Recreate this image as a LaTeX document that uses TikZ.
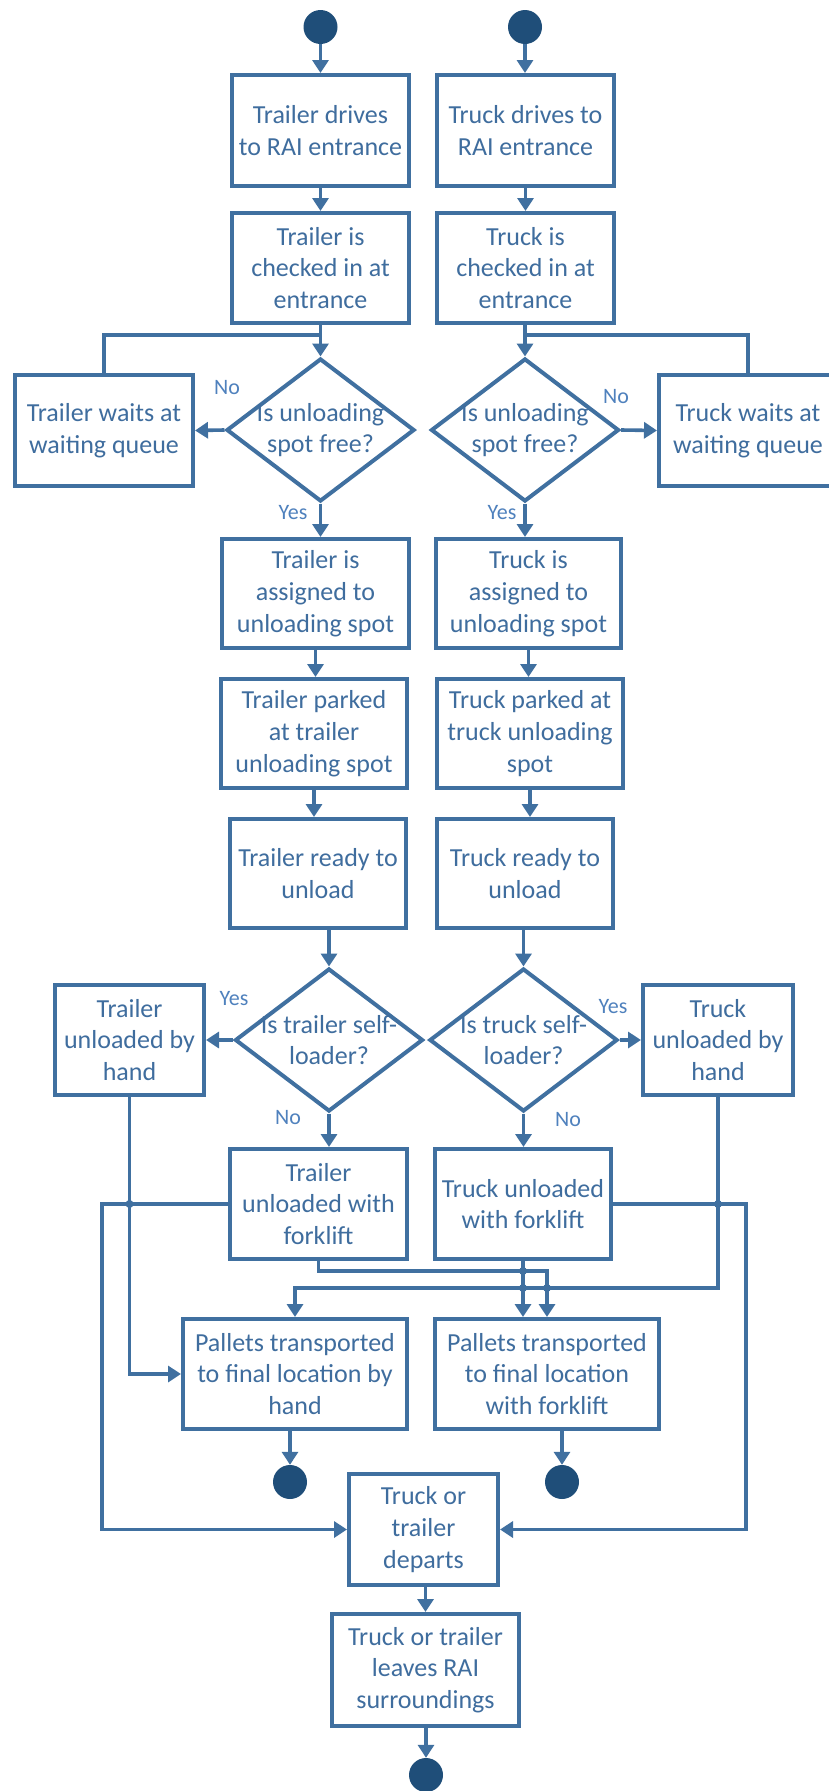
\documentclass[tikz,border=0pt]{standalone}
\usepackage{fontspec}
\setmainfont{Carlito}
\usetikzlibrary{arrows.meta,shapes.geometric}
\definecolor{lineblue}{RGB}{64,112,160}
\definecolor{textblue}{RGB}{63,109,158}
\definecolor{navy}{RGB}{31,78,121}
\definecolor{lblblue}{RGB}{79,129,189}
\begin{document}
\begin{tikzpicture}[x=1pt,y=-1pt,
  box/.style={draw=lineblue, line width=4pt, align=center, text=textblue, inner sep=0pt, font=\fontsize{26}{31.7}\selectfont},
  dia/.style={draw=lineblue, line width=4pt, diamond, inner sep=0pt, minimum width=188pt, minimum height=143pt},
  dtext/.style={align=center, text=textblue, inner sep=0pt, font=\fontsize{26}{31.7}\selectfont},
  startend/.style={circle, fill=navy, minimum size=34pt, inner sep=0pt},
  jn/.style={circle, fill=lineblue, minimum size=8pt, inner sep=0pt},
  lbl/.style={text=lblblue, inner sep=0pt, font=\fontsize{22}{26}\selectfont},
  conn/.style={draw=lineblue, line width=3.6pt},
  arr/.style={conn, -{Triangle[length=13pt,width=16pt]}},
]
\useasboundingbox (0,0) rectangle (829,1791);
\fill[white] (0,0) rectangle (829,1791);
\clip (0,0) rectangle (829,1791);

% start nodes
\node[startend] (s1) at (320.5,27) {};
\node[startend] (s2) at (525,27) {};

% boxes
\node[box, minimum width=177pt, minimum height=111pt] (a1) at (320.5,130.5) {Trailer drives\\to RAI entrance};
\node[box, minimum width=177pt, minimum height=111pt] (a2) at (525.5,130.5) {Truck drives to\\RAI entrance};
\node[box, minimum width=177pt, minimum height=110pt] (b1) at (320.5,268) {Trailer is\\checked in at\\entrance};
\node[box, minimum width=177pt, minimum height=110pt] (b2) at (525.5,268) {Truck is\\checked in at\\entrance};

\node[dia] (d1) at (320.5,430) {};
\node[dtext] (d1t) at (320.5,430) {Is unloading\\spot free?};
\node[dia] (d2) at (525,430) {};
\node[dtext] (d2t) at (525,430) {Is unloading\\spot free?};

\node[box, minimum width=178pt, minimum height=111pt] (w1) at (104,430.5) {Trailer waits at\\waiting queue};
\node[box, minimum width=178pt, minimum height=111pt] (w2) at (748,430.5) {Truck waits at\\waiting queue};

\node[box, minimum width=187pt, minimum height=109pt] (c1) at (315.5,593.5) {Trailer is\\assigned to\\unloading spot};
\node[box, minimum width=185pt, minimum height=109pt] (c2) at (528.5,593.5) {Truck is\\assigned to\\unloading spot};
\node[box, minimum width=186pt, minimum height=109pt] (e1) at (314,733.5) {Trailer parked\\at trailer\\unloading spot};
\node[box, minimum width=186pt, minimum height=109pt] (e2) at (530,733.5) {Truck parked at\\truck unloading\\spot};
\node[box, minimum width=176pt, minimum height=109pt] (f1) at (318,873.5) {Trailer ready to\\unload};
\node[box, minimum width=176pt, minimum height=109pt] (f2) at (525,873.5) {Truck ready to\\unload};

\node[dia] (g1) at (329,1040) {};
\node[dtext] (g1t) at (329,1040) {Is trailer self-\\loader?};
\node[dia] (g2) at (523.5,1040) {};
\node[dtext] (g2t) at (523.5,1040) {Is truck self-\\loader?};

\node[box, minimum width=149pt, minimum height=110pt] (h1) at (129.5,1040) {Trailer\\unloaded by\\hand};
\node[box, minimum width=150pt, minimum height=110pt] (h2) at (718,1040) {Truck\\unloaded by\\hand};

\node[box, minimum width=177pt, minimum height=110pt] (k1) at (318.5,1204) {Trailer\\unloaded with\\forklift};
\node[box, minimum width=176pt, minimum height=110pt] (k2) at (523,1204) {Truck unloaded\\with forklift};

\node[box, minimum width=224pt, minimum height=110pt] (p1) at (295,1374) {Pallets transported\\to final location by\\hand};
\node[box, minimum width=224pt, minimum height=110pt] (p2) at (547,1374) {Pallets transported\\to final location\\with forklift};

\node[startend] (end1) at (290,1482) {};
\node[startend] (end2) at (562,1482) {};

\node[box, minimum width=149pt, minimum height=111pt] (q) at (423.5,1529.5) {Truck or\\trailer\\departs};
\node[box, minimum width=187pt, minimum height=112pt] (r) at (425.5,1670) {Truck or trailer\\leaves RAI\\surroundings};

\node[startend] (end3) at (426,1775) {};

% connectors
\draw[arr] (s1.south) -- (s1.south |- a1.north);
\draw[arr] (s2.south) -- (s2.south |- a2.north);
\draw[arr] (a1.south) -- (b1.north);
\draw[arr] (a2.south) -- (b2.north);
\draw[arr] (b1.south) -- (d1.north);
\draw[arr] (d2.north |- b2.south) -- (d2.north);
\coordinate (j1) at (320.5,335);
\coordinate (j2) at (525,335);
\draw[conn] (w1.north) |- (j1);
\draw[conn] (w2.north) |- (j2);
\draw[arr] (d1.west) -- (w1.east);
\draw[arr] (d2.east) -- (w2.west);
\draw[arr] (d1.south) -- (d1.south |- c1.north);
\draw[arr] (d2.south) -- (d2.south |- c2.north);
\draw[arr] (c1.south) -- (c1.south |- e1.north);
\draw[arr] (c2.south) -- (c2.south |- e2.north);
\draw[arr] (e1.south) -- (e1.south |- f1.north);
\draw[arr] (e2.south) -- (e2.south |- f2.north);
\draw[arr] (g1.north |- f1.south) -- (g1.north);
\draw[arr] (g2.north |- f2.south) -- (g2.north);
\draw[arr] (g1.west) -- (h1.east);
\draw[arr] (g2.east) -- (h2.west);
\draw[arr] (g1.south) -- (g1.south |- k1.north);
\draw[arr] (g2.south) -- (g2.south |- k2.north);
\draw[arr] (h1.south) |- (p1.west);
\draw[arr] (k1.west) -- (k1.west -| 102,0) |- (q.west);
\draw[arr] (k2.east) -- (k2.east -| 746,0) |- (q.east);
\draw[arr] (h2.south) -- (h2.south |- 0,1288) -| (p1.north);
\draw[arr] (k1.south) -- (k1.south |- 0,1271) -| (p2.north);
\draw[arr] (k2.south) -- (k2.south |- p2.north);
\draw[arr] (p1.south -| end1.north) -- (end1.north);
\draw[arr] (p2.south -| end2.north) -- (end2.north);
\draw[arr] (r.north |- q.south) -- (r.north);
\draw[arr] (r.south -| end3.north) -- (end3.north);

% junction dots
\node[jn] (x1) at (h1.south |- k1.west) {};
\node[jn] (x2) at (h2.south |- k2.east) {};
\node[jn] (x3) at (k2.south |- 0,1271) {};
\node[jn] (x4) at (k2.south |- 0,1288) {};
\node[jn] (x5) at (p2.north |- 0,1288) {};

% labels
\node[lbl] (l1) at (227,388) {No};
\node[lbl] (l2) at (616,397) {No};
\node[lbl] (l3) at (293,513) {Yes};
\node[lbl] (l4) at (502,513) {Yes};
\node[lbl] (l5) at (234,999) {Yes};
\node[lbl] (l6) at (613,1007) {Yes};
\node[lbl] (l7) at (288,1118) {No};
\node[lbl] (l8) at (568,1120) {No};
\end{tikzpicture}
\end{document}
